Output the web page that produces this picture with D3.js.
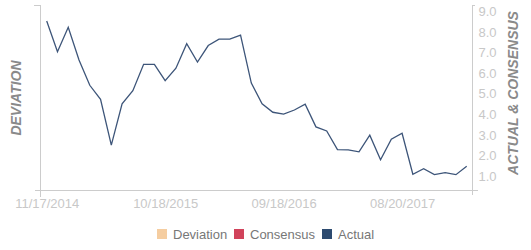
<!DOCTYPE html>
<html><head><meta charset="utf-8">
<script src="https://cdn.jsdelivr.net/npm/d3@7"></script>
<style>body{margin:0;background:#fff;} svg{display:block;font-family:"Liberation Sans",Arial,sans-serif;}</style>
</head><body>
<svg id="c" width="531" height="250"></svg>
<script>
const dates = ["11/17/2014","12/17/2014","01/17/2015","02/17/2015","03/18/2015","04/17/2015","05/18/2015","06/17/2015","07/17/2015","08/18/2015","09/17/2015","10/18/2015",
"11/17/2015","12/17/2015","01/18/2016","02/17/2016","03/17/2016","04/18/2016","05/18/2016","06/17/2016","07/18/2016","08/17/2016","09/18/2016",
"10/18/2016","11/17/2016","12/19/2016","01/18/2017","02/17/2017","03/20/2017","04/19/2017","05/19/2017","06/20/2017","07/20/2017","08/20/2017",
"09/20/2017","10/20/2017","11/20/2017","12/20/2017","01/19/2018","02/20/2018"];
const actual = [8.51,7.02,8.21,6.62,5.39,4.71,2.48,4.49,5.13,6.41,6.41,5.62,6.22,7.41,6.52,7.32,7.63,7.63,7.83,5.50,
4.49,4.08,3.99,4.19,4.47,3.37,3.17,2.27,2.25,2.16,2.97,1.77,2.77,3.06,1.07,1.34,1.05,1.15,1.05,1.46];
const xTickLabels = ["11/17/2014","10/18/2015","09/18/2016","08/20/2017"];
const rightTicks = [1,2,3,4,5,6,7,8,9];
const legendNames = ["Deviation","Consensus","Actual"];
const legendColors = ["#f5cda0","#d1435b","#2d4b70"];

const svg = d3.select("#c");
const L = 40.5, R = 472.5, T = 5, B = 190.5;
const x = d3.scalePoint().domain(dates).range([46.7, 466.7]);
const y = d3.scaleLinear().domain([0.28, 9.29]).range([B, T]);
const axisCol = "#cccccc", lblCol = "#c8c8c8";

// x axis line
svg.append("line").attr("x1",35).attr("x2",478).attr("y1",B).attr("y2",B).attr("stroke",axisCol);
// left axis
svg.append("line").attr("x1",L).attr("x2",L).attr("y1",T).attr("y2",197).attr("stroke",axisCol);
svg.append("line").attr("x1",34).attr("x2",L).attr("y1",T+0.5).attr("y2",T+0.5).attr("stroke",axisCol);
// right axis
const ra = svg.append("g").attr("transform",`translate(${R},0)`)
  .call(d3.axisRight(y).tickValues(rightTicks).tickFormat(d3.format(".1f")).tickSize(0).tickPadding(6));
ra.select(".domain").remove();
ra.selectAll("text").attr("fill",lblCol).style("font-size","13px").attr("dy","0.35em");
svg.append("line").attr("x1",R).attr("x2",R).attr("y1",T).attr("y2",195).attr("stroke",axisCol);
svg.append("line").attr("x1",R).attr("x2",R+2.5).attr("y1",T+0.5).attr("y2",T+0.5).attr("stroke",axisCol);

// x tick labels
const xa = svg.append("g").attr("transform",`translate(0,${B})`)
  .call(d3.axisBottom(x).tickValues(xTickLabels).tickSize(0).tickPadding(8));
xa.select(".domain").remove();
xa.selectAll("text").attr("fill",lblCol).style("font-size","13px").attr("dy","0.71em");

// axis titles
svg.append("text").attr("transform","translate(21,98) rotate(-90)").attr("text-anchor","middle")
  .attr("fill","#8a8a8a").style("font-size","14px").style("font-weight","bold").style("font-style","italic").text("DEVIATION");
svg.append("text").attr("transform","translate(518,93) rotate(-90)").attr("text-anchor","middle")
  .attr("fill","#8a8a8a").style("font-size","14px").style("font-weight","bold").style("font-style","italic").text("ACTUAL & CONSENSUS");

// line
svg.append("path").datum(actual)
  .attr("d", d3.line().x((d,i)=>x(dates[i])).y(d=>y(d)))
  .attr("fill","none").attr("stroke","#3d5579").attr("stroke-width",1.3);

// legend
const lx = [157, 234, 322];
legendNames.forEach((n,i)=>{
  svg.append("rect").attr("x",lx[i]).attr("y",229).attr("width",10).attr("height",10).attr("fill",legendColors[i]);
  svg.append("text").attr("x",lx[i]+16).attr("y",234).attr("dy","0.35em").attr("fill","#777")
    .style("font-size","13px").text(n);
});
</script>
</body></html>
